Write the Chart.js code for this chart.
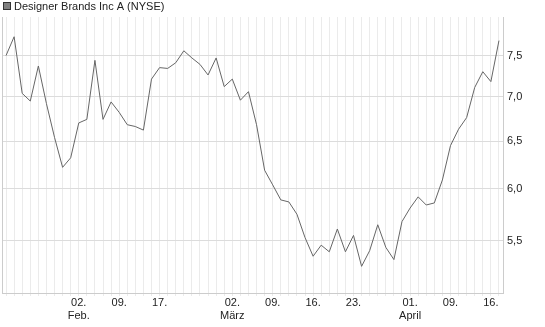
<!DOCTYPE html>
<html>
<head>
<meta charset="utf-8">
<script src="https://cdn.jsdelivr.net/npm/chart.js@4"></script>
<style>
  html, body { margin: 0; padding: 0; background: #fff; }
  #wrap { width: 545px; height: 327px; }
</style>
</head>
<body>
<div id="wrap"><canvas id="chart" width="545" height="327"></canvas></div>
<script>
// ── Data ──────────────────────────────────────────────────────
const TITLE = 'Designer Brands Inc A (NYSE)';

// trading days, 20 Jan – 17 Apr
const dates = [
  '20.01.', '21.01.', '22.01.', '23.01.', '26.01.', '27.01.', '28.01.', '29.01.', '30.01.',
  '02.02.', '03.02.', '04.02.', '05.02.', '06.02.', '09.02.', '10.02.', '11.02.', '12.02.', '13.02.',
  '17.02.', '18.02.', '19.02.', '20.02.', '23.02.', '24.02.', '25.02.', '26.02.', '27.02.',
  '02.03.', '03.03.', '04.03.', '05.03.', '06.03.', '09.03.', '10.03.', '11.03.', '12.03.', '13.03.',
  '16.03.', '17.03.', '18.03.', '19.03.', '20.03.', '23.03.', '24.03.', '25.03.', '26.03.', '27.03.',
  '30.03.', '31.03.',
  '01.04.', '02.04.', '06.04.', '07.04.', '08.04.', '09.04.', '10.04.', '13.04.', '14.04.', '15.04.',
  '16.04.', '17.04.'
];

const prices = [
  7.50, 7.74, 7.04, 6.95, 7.37, 6.92, 6.54, 6.22, 6.32,
  6.70, 6.74, 7.44, 6.74, 6.94, 6.82, 6.68, 6.66, 6.62, 7.21,
  7.35, 7.34, 7.41, 7.56, 7.47, 7.39, 7.26, 7.47, 7.12,
  7.21, 6.96, 7.06, 6.68, 6.19, 6.04, 5.89, 5.87, 5.75, 5.53,
  5.36, 5.46, 5.40, 5.61, 5.40, 5.55, 5.27, 5.41, 5.65, 5.44,
  5.33, 5.68,
  5.81, 5.92, 5.84, 5.86, 6.09, 6.45, 6.63, 6.76, 7.11, 7.30,
  7.18, 7.69
];

// x-axis labels shown under selected days
const xTickLabels = {
  '02.02.': ['02.', 'Feb.'],
  '09.02.': '09.',
  '17.02.': '17.',
  '02.03.': ['02.', 'März'],
  '09.03.': '09.',
  '16.03.': '16.',
  '23.03.': '23.',
  '01.04.': ['01.', 'April'],
  '09.04.': '09.',
  '16.04.': '16.'
};

const yTicks = [5.5, 6.0, 6.5, 7.0, 7.5];
const yMin = 5.04;
const yMax = 8.0;

// ── Title with legend box ─────────────────────────────────────
const titlePlugin = {
  id: 'titleBox',
  afterDraw(chart) {
    const ctx = chart.ctx;
    ctx.save();
    ctx.fillStyle = '#808080';
    ctx.fillRect(3, 2, 8, 8);
    ctx.strokeStyle = '#333';
    ctx.lineWidth = 1;
    ctx.strokeRect(3.5, 2.5, 7, 7);
    ctx.fillStyle = '#222';
    ctx.font = "11px 'Liberation Sans', Arial, sans-serif";
    ctx.textBaseline = 'middle';
    ctx.fillText(TITLE, 14, 6.5);
    ctx.restore();
  }
};

Chart.defaults.font.family = "'Liberation Sans', Arial, sans-serif";
Chart.defaults.font.size   = 11;
Chart.defaults.color       = '#333';

new Chart(document.getElementById('chart').getContext('2d'), {
  type: 'line',
  data: {
    labels: dates,
    datasets: [{
      label:       TITLE,
      data:        prices,
      yAxisID:     'y',
      borderColor: '#666',
      borderWidth: 1,
      pointRadius: 0,
      tension:     0,
      fill:        false
    }]
  },
  options: {
    responsive:       false,
    devicePixelRatio: 1,
    animation:        false,
    layout: { padding: { left: 2, right: 0, top: 17, bottom: 0 } },
    plugins: {
      legend:  { display: false },
      tooltip: { enabled: false }
    },
    scales: {
      x: {
        type:   'category',
        offset: true,
        grid:   { color: '#ebebeb', offset: false, tickLength: 3, drawTicks: true },
        border: { display: true, color: '#ccc' },
        ticks: {
          autoSkip:    false,
          maxRotation: 0,
          padding:     0,
          color:       '#222',
          callback: (v, i) => xTickLabels[dates[i]] || ''
        },
        afterFit: s => { s.height = 34; }
      },
      y: {
        type:     'logarithmic',
        position: 'right',
        min:      yMin,
        max:      yMax,
        grid:     { color: '#dcdcdc', drawTicks: false },
        border:   { display: true, color: '#ccc' },
        ticks: {
          padding:  4,
          color:    '#222',
          callback: v => v.toFixed(1).replace('.', ',')
        },
        afterBuildTicks: s => { s.ticks = yTicks.map(v => ({ value: v })); },
        afterFit: s => { s.width = 42; }
      },
      // left frame line only
      yl: {
        position: 'left',
        min:      0,
        max:      1,
        grid:     { display: false, drawTicks: false },
        border:   { display: true, color: '#ccc' },
        ticks:    { display: false },
        afterFit: s => { s.width = 0; }
      }
    }
  },
  plugins: [titlePlugin]
});
</script>
</body>
</html>
